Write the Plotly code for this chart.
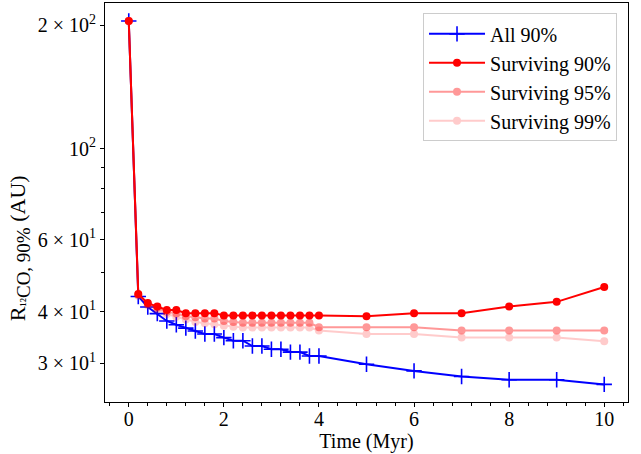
import plotly.graph_objects as go

# Time (Myr)
time = [0, 0.2, 0.4, 0.6, 0.8, 1.0, 1.2, 1.4, 1.6, 1.8,
        2.0, 2.2, 2.4, 2.6, 2.8, 3.0, 3.2, 3.4, 3.6, 3.8, 4.0,
        5, 6, 7, 8, 9, 10]

all_90 = [205, 43.6, 41.1, 39.6, 38.0, 37.2, 36.5, 35.9, 35.3, 35.3,
          34.6, 34.0, 34.0, 33.0, 33.0, 32.4, 32.4, 31.9, 31.9, 31.2, 31.2,
          29.8, 28.7, 27.8, 27.3, 27.3, 26.6]

surv_90 = [205, 44.2, 42.0, 41.2, 40.4, 40.4, 39.7, 39.7, 39.7, 39.7,
           39.2, 39.2, 39.2, 39.2, 39.2, 39.2, 39.2, 39.2, 39.2, 39.2, 39.2,
           39.0, 39.7, 39.7, 41.2, 42.3, 46.0]

surv_95 = [205, 44.0, 41.8, 40.9, 40.0, 39.6, 39.0, 38.8, 38.5, 38.5,
           38.0, 37.8, 37.6, 37.6, 37.6, 37.6, 37.6, 37.6, 37.6, 37.6, 36.7,
           36.7, 36.7, 36.0, 36.0, 36.0, 36.0]

surv_99 = [205, 43.8, 41.5, 40.5, 39.5, 38.9, 38.3, 37.8, 37.5, 37.3,
           37.0, 36.8, 36.6, 36.6, 36.6, 36.6, 36.6, 36.6, 36.6, 36.6, 36.0,
           35.3, 35.3, 34.6, 34.6, 34.6, 33.9]

ytick_vals = [30, 40, 60, 100, 200]
ytick_text = ["3 × 10<sup>1</sup>", "4 × 10<sup>1</sup>", "6 × 10<sup>1</sup>",
              "10<sup>2</sup>", "2 × 10<sup>2</sup>"]
yminor_vals = [50, 70, 80, 90]
xtick_vals = [0, 2, 4, 6, 8, 10]

FONT = "Liberation Serif, Times New Roman, serif"

fig = go.Figure()
fig.add_trace(go.Scatter(
    x=time, y=all_90, mode="lines+markers", name="All 90%",
    line=dict(color="#0000ff", width=2),
    marker=dict(symbol="cross-thin", size=11, line=dict(color="#0000ff", width=1.6)),
))
fig.add_trace(go.Scatter(
    x=time, y=surv_90, mode="lines+markers", name="Surviving 90%",
    line=dict(color="#ff0000", width=2),
    marker=dict(symbol="circle", size=8, color="#ff0000"),
))
fig.add_trace(go.Scatter(
    x=time, y=surv_95, mode="lines+markers", name="Surviving 95%",
    line=dict(color="#ff0000", width=2), opacity=0.4,
    marker=dict(symbol="circle", size=8, color="#ff0000"),
))
fig.add_trace(go.Scatter(
    x=time, y=surv_99, mode="lines+markers", name="Surviving 99%",
    line=dict(color="#ff0000", width=2), opacity=0.2,
    marker=dict(symbol="circle", size=8, color="#ff0000"),
))

ylabel = ("R<sub><span style='font-size:14px'>¹²</span>"
          "<span style='font-size:19px'>CO, 90%</span></sub> (AU)")

fig.update_layout(
    width=641, height=454,
    margin=dict(l=105, r=13, t=3, b=52),
    paper_bgcolor="white", plot_bgcolor="white",
    font=dict(family=FONT, size=20, color="black"),
    showlegend=True,
    legend=dict(
        x=0.979, y=0.974, xanchor="right", yanchor="top",
        bgcolor="rgba(255,255,255,0.8)", bordercolor="#cccccc", borderwidth=1,
        font=dict(family=FONT, size=20), itemwidth=56,
    ),
    xaxis=dict(
        range=[-0.5, 10.5], tickvals=xtick_vals, ticks="outside", ticklen=4,
        tickwidth=1, tickcolor="black", showgrid=False, zeroline=False,
        showline=True, linecolor="black", linewidth=1, mirror=True,
        ticklabelstandoff=-5,
        minor=dict(dtick=0.4, tick0=0, ticks="outside", ticklen=2.5, tickcolor="black"),
        title=dict(text="Time (Myr)", standoff=2, font=dict(family=FONT, size=20)),
        tickfont=dict(family=FONT, size=20),
    ),
    yaxis=dict(
        type="log", range=[1.382, 2.3555],
        tickvals=ytick_vals, ticktext=ytick_text, ticks="outside", ticklen=4,
        tickwidth=1, tickcolor="black", showgrid=False, zeroline=False,
        showline=True, linecolor="black", linewidth=1, mirror=True,
        minor=dict(tickvals=yminor_vals, ticks="outside", ticklen=3, tickcolor="black", showgrid=False),
        tickfont=dict(family=FONT, size=20),
    ),
    annotations=[dict(
        text=ylabel, textangle=-90, xref="paper", yref="paper",
        x=-0.163, y=0.385, xanchor="center", yanchor="middle", showarrow=False,
        font=dict(family=FONT, size=22, color="black"),
    )],
)

fig.write_html("out.html")
